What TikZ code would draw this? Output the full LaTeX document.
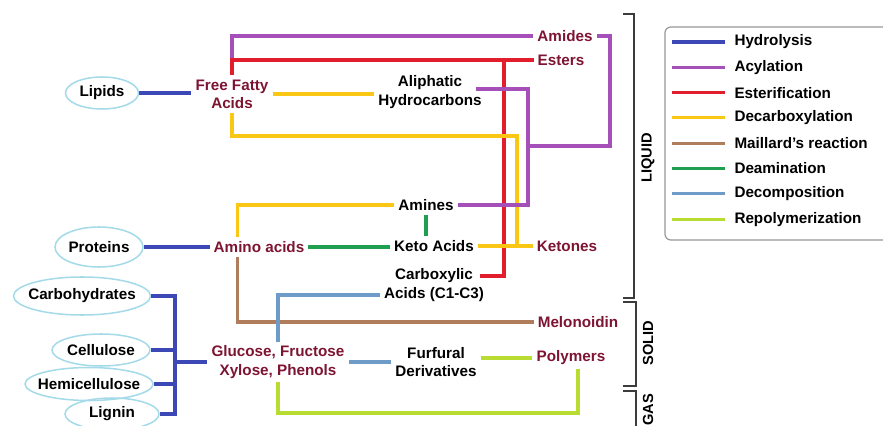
\documentclass[tikz,border=0pt]{standalone}
\usepackage{fontspec}
\setmainfont{Liberation Sans}
\usetikzlibrary{shapes.geometric}
\definecolor{hydroc}{RGB}{60,72,182}
\definecolor{acylc}{RGB}{165,80,185}
\definecolor{esterc}{RGB}{226,30,45}
\definecolor{decarbc}{RGB}{250,200,20}
\definecolor{maillc}{RGB}{176,125,92}
\definecolor{deamc}{RGB}{30,160,80}
\definecolor{decompc}{RGB}{110,155,200}
\definecolor{repolyc}{RGB}{185,220,50}
\definecolor{prodc}{RGB}{125,20,50}
\definecolor{ellc}{RGB}{165,218,232}
\definecolor{brkc}{RGB}{60,60,60}
\definecolor{boxc}{RGB}{150,150,150}
\tikzset{
  lbl/.style={inner sep=3.4pt,align=center,font=\bfseries\fontsize{13}{15.5}\selectfont},
  prod/.style={lbl,text=prodc},
  inter/.style={lbl,text=black},
  src/.style={ellipse,draw=ellc,line width=1.3pt,inner sep=0pt,font=\bfseries\fontsize{13}{15.5}\selectfont},
  rxn/.style={line width=2.6pt},
  hydro/.style={line width=2.6pt,draw=hydroc},
  acyl/.style={line width=2.6pt,draw=acylc},
  ester/.style={line width=2.6pt,draw=esterc},
  decarb/.style={line width=2.6pt,draw=decarbc},
  maill/.style={line width=2.6pt,draw=maillc},
  deam/.style={line width=2.6pt,draw=deamc},
  decomp/.style={line width=2.6pt,draw=decompc},
  repoly/.style={line width=2.6pt,draw=repolyc},
  brk/.style={draw=brkc,line width=1.3pt},
  phase/.style={rotate=90,inner sep=0pt,font=\bfseries\fontsize{12.5}{14}\selectfont}
}
\begin{document}
\begin{tikzpicture}[x=0.03cm,y=-0.03cm]
  \useasboundingbox (0,0) rectangle (883,426);
  % feedstocks
  \node[src,minimum width=2.19cm,minimum height=0.96cm] (lip) at (102,93) {\makebox[0pt]{Lipids}};
  \node[src,minimum width=2.64cm,minimum height=1.2cm] (pro) at (99,247) {\makebox[0pt]{Proteins}};
  \node[src,minimum width=4.11cm,minimum height=1.14cm] (cbh) at (82,296) {\makebox[0pt]{Carbohydrates}};
  \node[src,minimum width=2.94cm,minimum height=0.96cm] (cel) at (101,350) {\makebox[0pt]{Cellulose}};
  \node[src,minimum width=3.84cm,minimum height=0.99cm] (hem) at (89,384) {\makebox[0pt]{Hemicellulose}};
  \node[src,minimum width=2.82cm,minimum height=0.96cm] (lig) at (112,414) {\makebox[0pt]{Lignin}};
  % products
  \node[prod] (ffa) at (232,94) {Free Fatty\\Acids};
  \node[inter] (ali) at (430,92) {Aliphatic\\Hydrocarbons};
  \node[prod] (ami) at (565,36) {Amides};
  \node[prod] (est) at (561,60) {Esters};
  \node[inter] (amn) at (426,205) {Amines};
  \node[prod] (amac) at (259,247) {Amino acids};
  \node[inter] (keto) at (434,246) {Keto Acids};
  \node[prod] (ketn) at (567,246) {Ketones};
  \node[inter] (cox) at (434,285) {Carboxylic\\Acids (C1-C3)};
  \node[prod] (mel) at (578,322) {Melonoidin};
  \node[prod] (glu) at (278,362) {Glucose, Fructose\\Xylose, Phenols};
  \node[inter] (fur) at (436,362) {Furfural\\Derivatives};
  \node[prod] (pol) at (571,358) {Polymers};
  % junctions
  \coordinate (hydX) at (175,365);
  \coordinate (acyX) at (528,146);
  \coordinate (acyR) at (610,146);
  \coordinate (estX) at (504,60);
  \coordinate (decX) at (517,136);
  \coordinate (repB) at (578,413);
  % reactions
  \draw[hydro] (lip.east) -- (lip.east -| ffa.west);
  \draw[hydro] (pro.east) -- (pro.east -| amac.west);
  \draw[hydro] (cbh.east) -| (hydX |- lig.east) -- (lig.east);
  \draw[hydro] (cel.east) -- (cel.east -| hydX);
  \draw[hydro] (hem.east) -- (hem.east -| hydX);
  \draw[hydro] (hydX |- glu.west) -- (glu.west);
  \draw[acyl] (ffa.north |- est.west) |- (ami.west);
  \draw[ester] (ffa.north) |- (est.west);
  \draw[ester] (estX) |- ([xshift=-0.24cm,yshift=0.27cm]cox.east);
  \draw[decarb] (ffa.east) -- (ffa.east -| ali.west);
  \draw[decarb] (ffa.south) |- (decX) -- (decX |- ketn.west);
  \draw[decarb] (keto.east) -- (ketn.west);
  \draw[decarb] ([xshift=0.84cm]amac.north west) |- (amn.west);
  \draw[acyl] ([xshift=-0.3cm,yshift=0.09cm]ali.east) -| (acyX) |- (amn.east);
  \draw[acyl] (acyX) -- (acyR) |- (ami.east);
  \draw[deam] (amn.south) -- (amn.south |- keto.north);
  \draw[deam] (amac.east) -- (amac.east -| keto.west);
  \draw[maill] ([xshift=0.84cm]amac.south west) |- (mel.west);
  \draw[decomp] (glu.north) |- ([yshift=-0.3cm]cox.west);
  \draw[decomp] (glu.east) -- (fur.west);
  \draw[repoly] (pol.west -| fur.east) -- (pol.west);
  \draw[repoly] (glu.south) |- (repB) -- (repB |- pol.south);
  % phases
  \draw[brk] (623,14) -- (634,14) -- (634,298) -- (623,298);
  \draw[brk] (623,302) -- (636,302) -- (636,386) -- (623,386);
  \draw[brk] (623,391) -- (636,391) -- (636,430);
  \node[phase] (liq) at (648,158) {LIQUID};
  \node[phase] (sol) at (648,343) {SOLID};
  \node[phase] (gas) at (648,410) {GAS};
  % legend
  \draw[boxc,line width=1pt,rounded corners=5pt] (665,27) rectangle (900,240);
  \foreach \c/\t [count=\i from 0] in {hydroc/Hydrolysis,acylc/Acylation,esterc/Esterification,
      decarbc/Decarboxylation,maillc/Maillard's reaction,deamc/Deamination,
      decompc/Decomposition,repolyc/Repolymerization}{
    \pgfmathsetmacro\yy{42+25.3*\i}
    \draw[rxn,draw=\c] (672,\yy) -- (725,\yy) node[lbl,right=0.12cm] (lg\i) {\t};
  }
\end{tikzpicture}
\end{document}
